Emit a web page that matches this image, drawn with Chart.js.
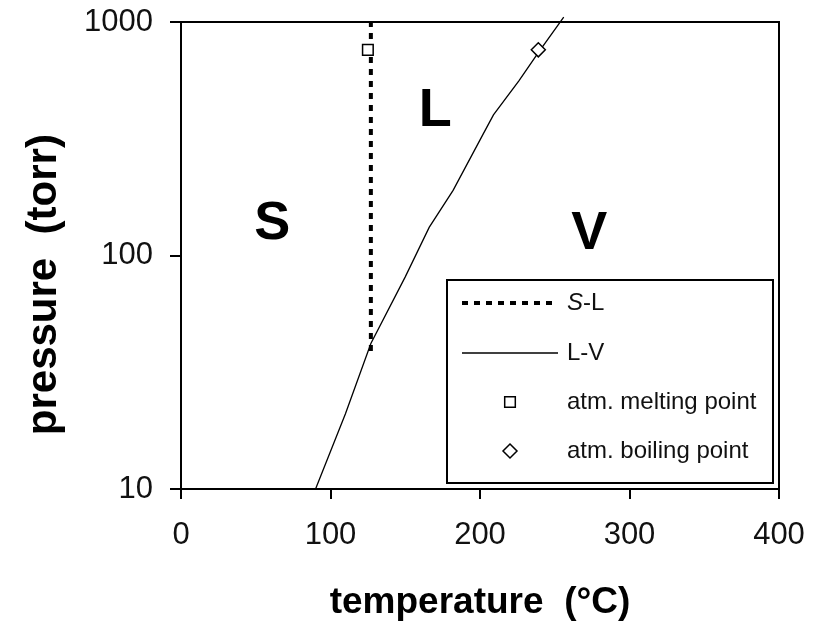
<!DOCTYPE html>
<html>
<head>
<meta charset="utf-8">
<script src="https://cdn.jsdelivr.net/npm/chart.js@4.4.1/dist/chart.umd.min.js"></script>
<style>
  html, body { margin: 0; padding: 0; background: #fff; }
</style>
</head>
<body>
<canvas id="grafico" width="818" height="622"></canvas>
<script>
// solid-liquid line (dotted)
const slTemp  = [127, 127];
const slPress = [39, 1000];
// liquid-vapour line
const lvTemp  = [90, 110, 127, 150, 166, 182, 202, 209, 226, 239, 256];
const lvPress = [10, 21, 42, 81, 132, 190, 330, 400, 560, 740, 1050];
// points at 1 atm
const meltTemp = [125], meltPress = [760];
const boilTemp = [239], boilPress = [760];

const xTicks = [0, 100, 200, 300, 400];
const yTicks = [10, 100, 1000];

// phase region letters
const regionNames = ['S', 'L', 'V'];
const regionTemp  = [61, 170, 273];
const regionPress = [136, 417, 123];

const fonte = "'Liberation Sans', Arial, sans-serif";
const pts = (xs, ys) => xs.map((x, i) => ({ x, y: ys[i] }));

function desenhaMarcador(ctx, estilo, r, x, y) {
    ctx.beginPath();
    if (estilo === 'rect') {
        const s = r * Math.SQRT1_2;
        ctx.rect(x - s, y - s, 2 * s, 2 * s);
    } else {
        ctx.moveTo(x, y - r); ctx.lineTo(x + r, y); ctx.lineTo(x, y + r); ctx.lineTo(x - r, y); ctx.closePath();
    }
    ctx.fill();
    ctx.stroke();
}

// frame top/right + letters S, L, V
const moldura = {
    id: 'moldura',
    afterDraw(chart) {
        const { ctx, chartArea: a, scales } = chart;
        ctx.save();
        ctx.strokeStyle = '#000';
        ctx.lineWidth = 2;
        ctx.beginPath();
        ctx.moveTo(a.left, a.top); ctx.lineTo(a.right, a.top); ctx.lineTo(a.right, a.bottom);
        ctx.stroke();

        ctx.fillStyle = '#000';
        ctx.font = 'bold 54px ' + fonte;
        ctx.textAlign = 'center';
        ctx.textBaseline = 'middle';
        regionNames.forEach((n, i) => {
            ctx.fillText(n, scales.x.getPixelForValue(regionTemp[i]), scales.y.getPixelForValue(regionPress[i]));
        });
        ctx.restore();
    }
};

// boxed legend in lower right
const legendaBox = {
    id: 'legendaBox',
    afterDraw(chart) {
        const ctx = chart.ctx;
        const L = 447, T = 280, R = 773, B = 483;
        const linhas = [303, 353, 402, 451];
        ctx.save();
        ctx.fillStyle = '#fff';
        ctx.fillRect(L, T, R - L, B - T);
        ctx.strokeStyle = '#000';
        ctx.lineWidth = 2;
        ctx.strokeRect(L, T, R - L, B - T);
        ctx.textBaseline = 'middle';
        ctx.textAlign = 'left';

        chart.data.datasets.forEach((ds, i) => {
            const y = linhas[i];
            ctx.strokeStyle = '#000';
            if (ds.showLine) {
                ctx.setLineDash(ds.borderDash || []);
                ctx.lineWidth = ds.borderWidth;
                ctx.beginPath();
                ctx.moveTo(462, y); ctx.lineTo(558, y);
                ctx.stroke();
                ctx.setLineDash([]);
            } else {
                ctx.fillStyle = '#fff';
                ctx.lineWidth = ds.borderWidth;
                desenhaMarcador(ctx, ds.pointStyle, ds.pointRadius, 510, y);
            }
            ctx.fillStyle = '#111';
            let x = 567;
            const nItal = ds.legendItalic || 0;
            if (nItal) {
                ctx.font = 'italic 24px ' + fonte;
                const p = ds.label.slice(0, nItal);
                ctx.fillText(p, x, y);
                x += ctx.measureText(p).width;
            }
            ctx.font = '24px ' + fonte;
            ctx.fillText(ds.label.slice(nItal), x, y);
        });
        ctx.restore();
    }
};

new Chart(document.getElementById('grafico'), {
    type: 'scatter',
    data: {
        datasets: [
            { label: 'S-L', legendItalic: 1, data: pts(slTemp, slPress), showLine: true, borderColor: '#000',
              borderWidth: 4, borderDash: [6, 6], pointRadius: 0, order: 1 },
            { label: 'L-V', data: pts(lvTemp, lvPress), showLine: true, borderColor: '#000',
              borderWidth: 1.3, pointRadius: 0, clip: false, order: 1 },
            { label: 'atm. melting point', data: pts(meltTemp, meltPress), showLine: false, pointStyle: 'rect',
              pointRadius: 7.5, borderWidth: 1.5, borderColor: '#000', backgroundColor: '#fff', order: 0 },
            { label: 'atm. boiling point', data: pts(boilTemp, boilPress), showLine: false, pointStyle: 'rectRot',
              pointRadius: 7, borderWidth: 1.5, borderColor: '#000', backgroundColor: '#fff', order: 0 }
        ]
    },
    options: {
        responsive: false,
        animation: false,
        layout: { padding: { left: 0, top: 22, right: 39, bottom: 0 } },
        plugins: { legend: { display: false }, tooltip: { enabled: false } },
        scales: {
            x: {
                type: 'linear', min: 0, max: 400,
                afterBuildTicks: s => { s.ticks = xTicks.map(v => ({ value: v })); },
                afterFit: s => { s.height = 133; s.paddingLeft = 0; s.paddingRight = 0; },
                border: { display: true, color: '#000', width: 2 },
                grid: { drawOnChartArea: false, drawTicks: true, tickLength: 10, color: '#000', lineWidth: 2 },
                ticks: { color: '#111', font: { family: fonte, size: 31 }, padding: 18, maxRotation: 0 },
                title: { display: true, text: 'temperature  (°C)', color: '#000',
                         font: { family: fonte, size: 37, weight: 'bold', lineHeight: 1 }, padding: { top: 0, bottom: 1 } }
            },
            y: {
                type: 'logarithmic', min: 10, max: 1000,
                afterBuildTicks: s => { s.ticks = yTicks.map(v => ({ value: v })); },
                afterFit: s => { s.width = 181; s.paddingTop = 0; s.paddingBottom = 0; },
                border: { display: true, color: '#000', width: 2 },
                grid: { drawOnChartArea: false, drawTicks: true, tickLength: 11, color: '#000', lineWidth: 2 },
                ticks: { color: '#111', font: { family: fonte, size: 31 }, padding: 17, callback: v => String(v) },
                title: { display: true, text: 'pressure  (torr)     ', color: '#000',
                         font: { family: fonte, size: 42, weight: 'bold', lineHeight: 1 }, padding: { top: 23, bottom: 0 } }
            }
        }
    },
    plugins: [moldura, legendaBox]
});
</script>
</body>
</html>
